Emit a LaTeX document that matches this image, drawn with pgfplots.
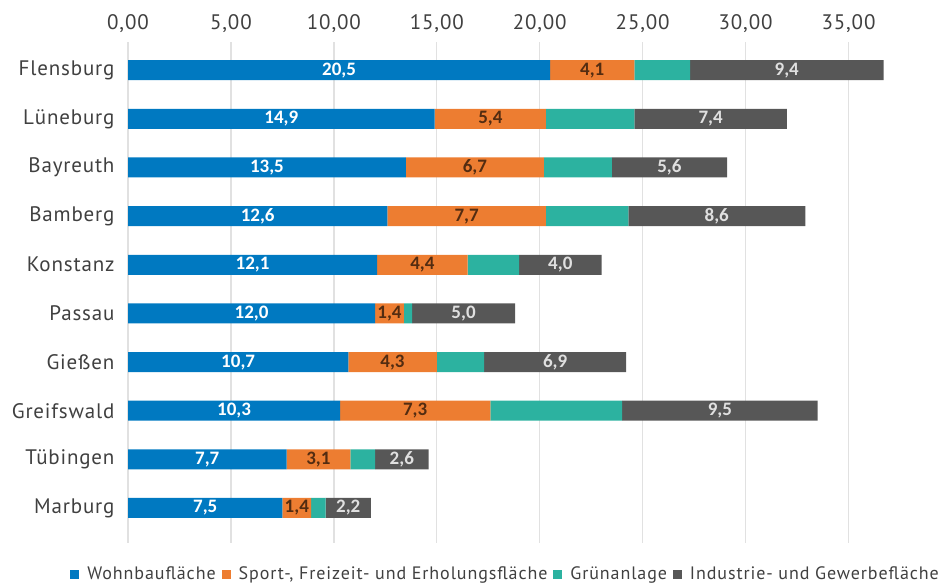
\documentclass[border=0pt]{standalone}
\usepackage{pgfplots}
\pgfplotsset{compat=1.18}
\usepackage{pgfplotstable}
\usepackage{fontspec}
\setmainfont{PT Sans}
\newfontfamily\ticfont[LetterSpace=4]{PT Sans}
\newfontfamily\legfont[LetterSpace=5]{PT Sans}
\newfontfamily\labelfont{Carlito}

\definecolor{cW}{RGB}{0,121,193}
\definecolor{cS}{RGB}{237,125,49}
\definecolor{cG}{RGB}{44,178,160}
\definecolor{cI}{RGB}{87,87,87}
\definecolor{gridc}{RGB}{225,225,225}
\definecolor{txt}{RGB}{64,64,64}

\pgfplotstableread{
idx w s g i
0 20.5 4.1 2.7 9.4
1 14.9 5.4 4.3 7.4
2 13.5 6.7 3.3 5.6
3 12.6 7.7 4.0 8.6
4 12.1 4.4 2.5 4.0
5 12.0 1.4 0.4 5.0
6 10.7 4.3 2.3 6.9
7 10.3 7.3 6.4 9.5
8 7.7 3.1 1.2 2.6
9 7.5 1.4 0.7 2.2
}\data

\begin{document}
\begin{tikzpicture}
\useasboundingbox (0,0) rectangle (941bp,585bp);
\begin{axis}[
  at={(128bp,42bp)}, anchor=south west,
  width=772bp, height=501bp, scale only axis,
  xbar stacked, bar width=20bp,
  xmin=0, xmax=37.5, ymin=-0.58, ymax=9.72, y dir=reverse,
  ytick={0,...,9},
  yticklabels={Flensburg,Lüneburg,Bayreuth,Bamberg,Konstanz,Passau,Gießen,Greifswald,Tübingen,Marburg},
  xtick={0,5,...,35},
  xticklabel pos=upper,
  xticklabel={\pgfmathprintnumber[fixed,fixed zerofill,precision=2,use comma]{\tick}},
  /pgf/number format/assume math mode=true,
  tick label style={font=\ticfont\fontsize{21bp}{24bp}\selectfont, text=txt},
  xticklabel style={yshift=6bp},
  yticklabel style={xshift=-10bp},
  major tick length=0pt,
  axis line style={draw=none},
  xmajorgrids, ymajorgrids=false,
  grid style={gridc, line width=1.3bp},
  legend style={at={(1.0531,-0.062)}, anchor=east, draw=none, fill=none, inner sep=0pt,
    legend columns=4, font=\legfont\fontsize{18bp}{20bp}\selectfont, text=txt,
    /tikz/every even column/.append style={column sep=4bp},
    /tikz/every odd column/.append style={column sep=6bp}},
  legend image code/.code={\fill[#1] (0bp,-4.5bp) rectangle (9bp,4.5bp);},
  every node near coord/.append style={font=\labelfont\bfseries\fontsize{19bp}{21bp}\selectfont},
]
\addplot[fill=cW, draw=none, nodes near coords={\pgfmathprintnumber[fixed,fixed zerofill,precision=1,use comma]{\pgfplotspointmeta}}, every node near coord/.append style={text=white}] table[x=w, y=idx] {\data};
\addlegendentry{Wohnbaufläche}
\addplot[fill=cS, draw=none, nodes near coords={\pgfmathprintnumber[fixed,fixed zerofill,precision=1,use comma]{\pgfplotspointmeta}}, every node near coord/.append style={text=black!65!cS}] table[x=s, y=idx] {\data};
\addlegendentry{Sport-, Freizeit- und Erholungsfläche}
\addplot[fill=cG, draw=none] table[x=g, y=idx] {\data};
\addlegendentry{Grünanlage}
\addplot[fill=cI, draw=none, nodes near coords={\pgfmathprintnumber[fixed,fixed zerofill,precision=1,use comma]{\pgfplotspointmeta}}, every node near coord/.append style={text=black!12}] table[x=i, y=idx] {\data};
\addlegendentry{Industrie- und Gewerbefläche}
\end{axis}
\end{tikzpicture}
\end{document}
